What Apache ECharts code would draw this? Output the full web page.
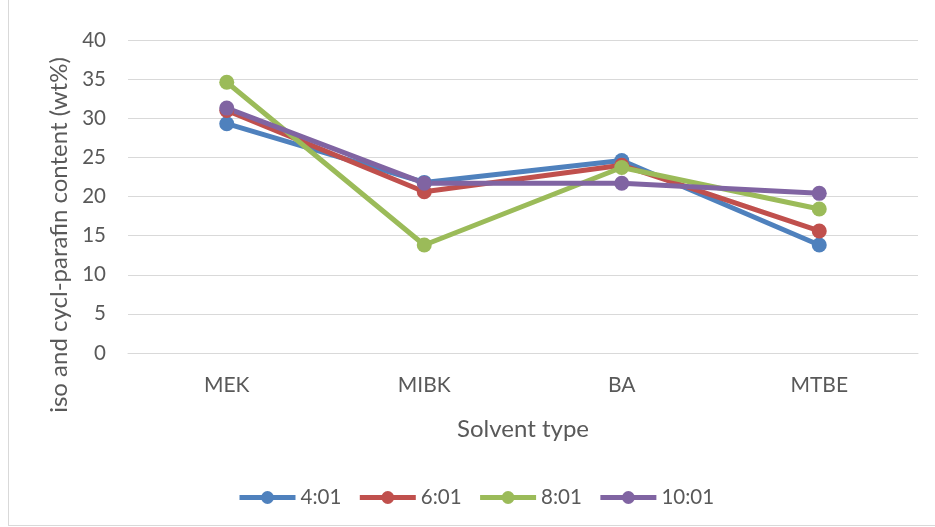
<!DOCTYPE html>
<html><head><meta charset="utf-8">
<script src="https://cdn.jsdelivr.net/npm/echarts@6/dist/echarts.min.js"></script>
<style>html,body{margin:0;padding:0;background:#fff;}
#c{position:absolute;left:8px;top:-1px;width:935px;height:527px;border:1px solid #d9d9d9;box-sizing:border-box;}
#chart{position:absolute;left:0;top:0;width:935px;height:527px;}</style>
</head><body>
<div id="c"></div>
<div id="chart"></div>
<script>
const categories = ['MEK', 'MIBK', 'BA', 'MTBE'];
const seriesNames = ['4:01', '6:01', '8:01', '10:01'];
const s401 = [29.3, 21.8, 24.6, 13.8];
const s601 = [31.0, 20.6, 24.0, 15.6];
const s801 = [34.6, 13.8, 23.7, 18.4];
const s1001 = [31.3, 21.7, 21.7, 20.4];
const yTicks = [0, 5, 10, 15, 20, 25, 30, 35, 40];
const yTitle = 'iso and cycl-parafin content (wt%)';
const xTitle = 'Solvent type';
const colors = ['#4F81BD', '#C0504D', '#9BBB59', '#8064A2'];
const values = [s401, s601, s801, s1001];
const font = 'Lato, "Open Sans", sans-serif';
const chart = echarts.init(document.getElementById('chart'));
chart.setOption({
  animation: false,
  color: colors,
  textStyle: {fontFamily: font, color: '#595959'},
  grid: {left: 128, right: 17, top: 40, bottom: 174},
  graphic: [{
    type: 'text', x: 59, y: 235, rotation: Math.PI / 2,
    style: {text: yTitle, fontFamily: font, fontSize: 24, fill: '#595959',
      align: 'center', verticalAlign: 'middle'}
  }],
  xAxis: {
    type: 'category', data: categories, boundaryGap: true,
    name: xTitle, nameLocation: 'middle', nameGap: 64,
    nameTextStyle: {fontFamily: font, fontSize: 24, color: '#595959'},
    axisLine: {lineStyle: {color: '#d9d9d9', width: 1}},
    axisTick: {show: false},
    axisLabel: {fontFamily: font, fontSize: 21, color: '#595959', margin: 22}
  },
  yAxis: {
    type: 'value', min: yTicks[0], max: yTicks[yTicks.length - 1], interval: 5,
    axisLine: {show: false}, axisTick: {show: false},
    axisLabel: {fontFamily: font, fontSize: 20.5, color: '#595959', margin: 22},
    splitLine: {lineStyle: {color: '#d9d9d9', width: 1}}
  },
  legend: {
    bottom: 14, left: 232, itemWidth: 56, itemHeight: 16, itemGap: 16,
    lineStyle: {width: 5},
    textStyle: {fontFamily: font, fontSize: 20.5, color: '#595959'},
    data: seriesNames
  },
  series: seriesNames.map((n, i) => ({
    name: n, type: 'line', data: values[i],
    symbol: 'circle', symbolSize: 15,
    lineStyle: {width: 5, color: colors[i]},
    itemStyle: {color: colors[i]}
  }))
});
</script>
</body></html>
